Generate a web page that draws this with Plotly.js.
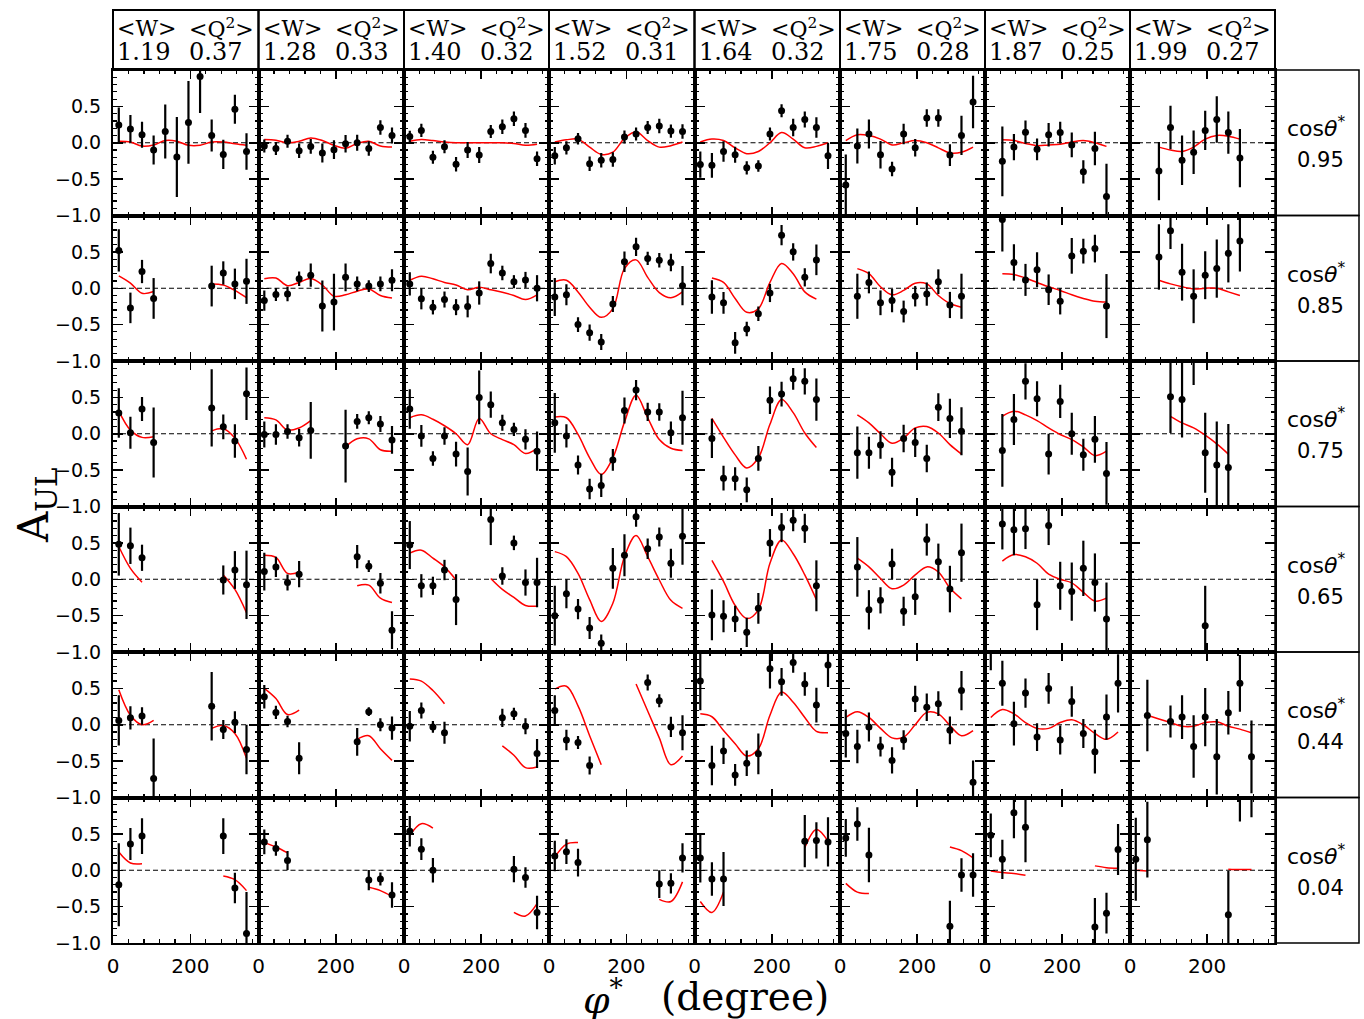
<!DOCTYPE html>
<html><head><meta charset="utf-8">
<script src="https://cdn.plot.ly/plotly-3.0.1.min.js"></script>
<style>html,body{margin:0;padding:0;background:#fff}</style>
</head><body>
<div id="chart" style="width:1364px;height:1019px"></div>
<script>
// ---------------- data ----------------
const PHI = [15,45,75,105,135,165,195,225,255,285,315,345];
const W_MEAN = ['1.19','1.28','1.40','1.52','1.64','1.75','1.87','1.99'];
const Q2_MEAN = ['0.37','0.33','0.32','0.31','0.32','0.28','0.25','0.27'];
const COS_THETA = ['0.95','0.85','0.75','0.65','0.44','0.04'];
const Y_TICKS = [-1,-0.5,0,0.5,1];
const Y_TICK_TEXT = ['\u22121.0','\u22120.5','0.0','0.5',''];
const N = null;

// cos(theta*) = 0.95
const A_095 = [
 [0.245,0.19,0.11,-0.10,0.155,-0.195,0.28,0.91,0.10,-0.16,0.46,-0.12],
 [-0.045,-0.08,0.02,-0.11,-0.05,-0.14,-0.095,-0.015,0.0,-0.08,0.21,0.10],
 [0.085,0.17,-0.20,-0.055,-0.295,-0.10,-0.17,0.155,0.22,0.33,0.17,-0.22],
 [-0.18,-0.07,0.055,-0.29,-0.24,-0.23,0.08,0.12,0.21,0.23,0.16,0.155],
 [-0.30,-0.31,-0.12,-0.165,-0.345,-0.32,0.12,0.44,0.21,0.32,0.21,-0.18],
 [-0.58,-0.045,0.12,-0.165,-0.36,0.12,-0.07,0.34,0.34,-0.17,0.10,0.56],
 [N,-0.255,-0.06,0.145,-0.09,0.11,0.14,-0.03,-0.40,-0.08,-0.74,N],
 [N,N,-0.39,0.21,-0.24,-0.13,0.17,0.32,0.14,-0.21,N,N]
];
const E_095 = [
 [0.24,0.19,0.18,0.20,0.37,0.55,0.57,0.50,0.22,0.20,0.20,0.25],
 [0.09,0.09,0.09,0.10,0.10,0.13,0.13,0.12,0.11,0.10,0.10,0.11],
 [0.08,0.09,0.09,0.09,0.10,0.11,0.11,0.09,0.10,0.10,0.10,0.10],
 [0.12,0.09,0.08,0.10,0.10,0.10,0.09,0.09,0.09,0.10,0.09,0.10],
 [0.18,0.17,0.14,0.11,0.09,0.08,0.09,0.09,0.12,0.11,0.14,0.18],
 [0.42,0.24,0.20,0.19,0.10,0.14,0.12,0.12,0.12,0.15,0.27,0.36],
 [N,0.48,0.18,0.16,0.15,0.16,0.15,0.17,0.16,0.23,0.45,N],
 [N,N,0.40,0.30,0.34,0.30,0.27,0.32,0.29,0.40,N,N]
];
const F_095 = [
 [0.02,0.01,-0.045,-0.03,0.03,0.02,-0.035,-0.035,0.01,0.01,-0.015,-0.035],
 [0.045,0.035,0.0,0.02,0.065,0.03,-0.035,-0.075,-0.01,0.02,-0.045,-0.06],
 [0.02,0.045,0.03,0.01,0.0,0.0,0.0,0.0,0.0,-0.01,-0.035,-0.02],
 [0.01,0.04,0.05,-0.06,-0.16,-0.13,0.06,0.15,0.03,-0.06,-0.04,0.01],
 [0.01,0.05,0.03,-0.07,-0.15,-0.12,0.0,0.14,0.05,-0.07,-0.05,0.0],
 [0.03,0.11,0.10,0.05,-0.03,0.0,0.03,0.0,-0.07,-0.14,-0.13,-0.06],
 [N,0.04,0.03,-0.01,-0.04,-0.03,-0.02,0.01,0.03,0.0,-0.05,N],
 [N,N,-0.06,-0.10,-0.12,-0.06,0.05,0.10,0.09,0.05,N,N]
];

// cos(theta*) = 0.85
const A_085 = [
 [0.52,-0.27,0.23,-0.14,N,N,N,N,0.03,0.21,0.06,0.095],
 [-0.17,-0.085,-0.08,0.13,0.18,-0.245,-0.19,0.15,0.06,0.03,0.06,0.11],
 [0.06,-0.145,-0.26,-0.155,-0.26,-0.25,-0.065,0.34,0.21,0.09,0.115,0.0],
 [-0.12,-0.09,-0.50,-0.61,-0.74,-0.215,0.365,0.57,0.41,0.385,0.355,0.035],
 [N,-0.12,-0.20,-0.75,-0.56,-0.35,-0.065,0.73,0.50,0.15,0.39,N],
 [N,-0.11,0.08,-0.20,-0.17,-0.32,-0.11,-0.08,0.09,-0.23,-0.11,N],
 [N,0.945,0.355,0.115,0.255,-0.02,-0.18,0.445,0.51,0.545,-0.245,N],
 [N,N,0.43,0.79,0.22,-0.11,0.18,0.27,0.48,0.65,N,N]
];
const E_085 = [
 [0.29,0.21,0.16,0.28,N,N,N,N,0.28,0.16,0.21,0.31],
 [0.14,0.09,0.10,0.10,0.16,0.35,0.39,0.19,0.10,0.08,0.10,0.15],
 [0.16,0.145,0.10,0.11,0.11,0.15,0.16,0.135,0.10,0.09,0.11,0.18],
 [0.26,0.145,0.10,0.11,0.11,0.11,0.14,0.125,0.09,0.10,0.12,0.27],
 [N,0.23,0.15,0.15,0.10,0.10,0.125,0.14,0.12,0.125,0.21,N],
 [N,0.31,0.15,0.17,0.16,0.15,0.14,0.16,0.17,0.18,0.31,N],
 [N,0.44,0.25,0.22,0.24,0.21,0.18,0.245,0.17,0.19,0.44,N],
 [N,N,0.45,0.25,0.39,0.37,0.33,0.40,0.40,0.42,N,N]
];
const F_085 = [
 [0.17,0.07,-0.07,-0.045,N,N,N,N,0.06,0.045,-0.03,-0.13],
 [0.13,0.14,0.035,0.08,0.135,0.045,-0.11,-0.09,-0.04,-0.01,-0.10,-0.135],
 [0.11,0.165,0.13,0.08,0.045,-0.02,0.015,-0.02,-0.055,-0.10,-0.155,-0.09],
 [0.09,0.11,-0.05,-0.26,-0.40,-0.28,0.27,0.39,0.15,-0.06,-0.13,-0.05],
 [N,0.14,0.08,-0.14,-0.33,-0.28,0.08,0.34,0.20,-0.05,-0.15,N],
 [N,0.27,0.20,0.02,-0.09,-0.03,0.07,0.06,-0.10,-0.21,-0.26,N],
 [N,0.20,0.19,0.14,0.08,0.02,-0.03,-0.09,-0.14,-0.18,-0.19,N],
 [N,N,0.11,0.06,0.02,-0.01,0.0,0.0,-0.05,-0.10,N,N]
];

// cos(theta*) = 0.75
const A_075 = [
 [0.285,0.015,0.34,-0.12,N,N,N,N,0.355,0.095,-0.10,0.55],
 [-0.01,-0.01,0.03,-0.055,0.045,N,N,-0.17,0.17,0.22,0.135,-0.085],
 [0.34,-0.03,-0.34,-0.03,-0.28,-0.52,0.50,0.40,0.15,0.06,-0.077,-0.24],
 [0.15,-0.03,-0.43,-0.76,-0.71,-0.36,0.32,0.60,0.30,0.30,0.015,0.22],
 [N,-0.065,-0.61,-0.62,-0.77,-0.34,0.46,0.545,0.755,0.72,0.47,N],
 [N,-0.26,-0.26,-0.155,-0.53,-0.065,-0.12,-0.34,0.365,0.21,0.035,N],
 [N,-0.23,0.195,0.72,0.48,-0.28,0.445,0.0,-0.29,-0.077,-0.545,N],
 [N,N,N,0.51,0.47,1.15,-0.26,-0.43,-0.465,N,N,N]
];
const E_075 = [
 [0.34,0.22,0.165,0.48,N,N,N,N,0.53,0.17,0.23,0.36],
 [0.18,0.14,0.10,0.12,0.39,N,N,0.50,0.10,0.09,0.11,0.19],
 [0.27,0.15,0.10,0.12,0.17,0.33,0.37,0.18,0.11,0.09,0.14,0.27],
 [0.41,0.16,0.13,0.14,0.16,0.15,0.18,0.14,0.125,0.12,0.155,0.37],
 [N,0.27,0.17,0.16,0.17,0.17,0.19,0.17,0.15,0.18,0.29,N],
 [N,0.36,0.22,0.19,0.20,0.19,0.20,0.19,0.19,0.27,0.33,N],
 [N,0.50,0.35,0.25,0.24,0.28,0.23,0.29,0.22,0.32,0.43,N],
 [N,N,N,0.50,0.52,0.48,0.55,0.60,0.60,N,N,N]
];
const F_075 = [
 [0.31,0.05,-0.05,-0.04,N,N,N,N,0.04,0.07,-0.06,-0.35],
 [0.22,0.19,0.05,0.08,0.18,N,N,-0.18,-0.07,-0.07,-0.22,-0.24],
 [0.22,0.26,0.20,0.11,0.0,-0.15,0.21,0.0,-0.08,-0.15,-0.27,-0.20],
 [0.23,0.22,-0.01,-0.33,-0.56,-0.33,0.16,0.53,0.22,-0.08,-0.20,-0.23],
 [N,0.21,-0.05,-0.29,-0.47,-0.33,0.13,0.47,0.29,0.01,-0.19,N],
 [N,0.26,0.15,0.0,-0.13,-0.06,0.08,0.10,0.01,-0.15,-0.28,N],
 [N,0.24,0.31,0.26,0.18,0.08,-0.01,-0.08,-0.18,-0.30,-0.24,N],
 [N,N,N,0.24,0.15,0.08,-0.02,-0.14,-0.28,N,N,N]
];

// cos(theta*) = 0.65
const A_065 = [
 [0.48,0.46,0.295,N,N,N,N,N,N,-0.01,0.127,-0.077],
 [0.105,0.17,-0.045,0.07,N,N,N,N,0.31,0.18,-0.055,-0.70],
 [0.47,-0.09,-0.09,0.127,-0.28,N,N,0.82,0.045,0.50,-0.045,-0.045],
 [-0.50,-0.20,-0.41,-0.67,-0.88,0.15,0.33,0.86,0.42,0.58,0.22,0.59],
 [N,-0.49,-0.51,-0.545,-0.73,-0.40,0.50,0.71,0.81,0.70,-0.09,N],
 [N,0.17,-0.42,-0.29,0.21,-0.44,-0.24,0.545,0.24,-0.135,0.365,N],
 [N,0.76,0.68,0.695,-0.35,0.74,-0.09,-0.17,0.15,-0.045,-0.545,N],
 [N,N,N,N,N,N,-0.64,N,N,N,N,N]
];
const E_065 = [
 [0.43,0.25,0.18,N,N,N,N,N,N,0.20,0.26,0.47],
 [0.26,0.14,0.11,0.18,N,N,N,N,0.16,0.08,0.14,0.26],
 [0.33,0.16,0.125,0.14,0.35,N,N,0.35,0.12,0.10,0.18,0.34],
 [0.41,0.20,0.14,0.15,0.12,0.28,0.29,0.14,0.14,0.13,0.20,0.39],
 [N,0.35,0.22,0.18,0.20,0.21,0.19,0.20,0.15,0.20,0.35,N],
 [N,0.41,0.27,0.18,0.21,0.20,0.25,0.22,0.25,0.32,0.40,N],
 [N,0.35,0.35,0.28,0.35,0.27,0.33,0.40,0.38,0.40,0.50,N],
 [N,N,N,N,N,N,0.55,N,N,N,N,N]
];
const F_065 = [
 [0.45,0.15,-0.04,N,N,N,N,N,N,0.06,-0.14,-0.46],
 [0.33,0.30,0.08,0.10,N,N,N,N,-0.09,-0.08,-0.26,-0.32],
 [0.36,0.40,0.29,0.17,-0.01,N,N,0.01,-0.14,-0.25,-0.36,-0.37],
 [0.38,0.31,0.08,-0.28,-0.58,-0.33,0.31,0.60,0.31,-0.01,-0.29,-0.40],
 [N,0.26,-0.03,-0.36,-0.54,-0.42,0.22,0.54,0.35,0.06,-0.28,N],
 [N,0.29,0.17,0.01,-0.13,-0.08,0.06,0.17,0.10,-0.12,-0.27,N],
 [N,0.25,0.34,0.31,0.22,0.07,0.0,-0.05,-0.18,-0.30,-0.26,N],
 [N,N,N,N,N,N,N,N,N,N,N,N]
];

// cos(theta*) = 0.44
const A_044 = [
 [0.06,0.095,0.12,-0.74,N,N,N,N,0.255,-0.065,0.035,-0.34],
 [0.385,0.17,0.045,-0.46,N,N,N,N,-0.235,0.18,0.0,-0.045],
 [-0.02,0.195,-0.03,-0.11,N,N,N,N,0.095,0.15,-0.02,-0.395],
 [0.195,-0.21,-0.245,-0.56,N,N,N,N,0.58,0.33,-0.03,-0.11],
 [0.60,-0.56,-0.36,-0.69,-0.53,-0.40,0.77,0.59,0.855,0.56,0.27,0.82],
 [-0.12,-0.30,-0.03,-0.30,-0.49,-0.21,0.355,0.24,0.29,-0.077,0.47,-0.79],
 [1.05,0.57,0.015,0.435,-0.17,0.50,-0.21,0.32,-0.12,-0.37,0.105,0.57],
 [N,0.127,N,0.045,0.105,-0.30,0.105,-0.44,0.165,0.57,-0.44,N]
];
const E_044 = [
 [0.345,0.16,0.12,0.55,N,N,N,N,0.47,0.13,0.15,0.34],
 [0.16,0.09,0.08,0.22,N,N,N,N,0.19,0.06,0.09,0.16],
 [0.21,0.11,0.08,0.15,N,N,N,N,0.125,0.085,0.11,0.20],
 [0.21,0.14,0.09,0.125,N,N,N,N,0.11,0.09,0.14,0.24],
 [0.40,0.27,0.18,0.15,0.175,0.28,0.27,0.19,0.14,0.16,0.24,0.30],
 [0.33,0.23,0.20,0.135,0.18,0.135,0.18,0.19,0.17,0.19,0.27,0.30],
 [0.30,0.31,0.30,0.20,0.19,0.21,0.20,0.21,0.20,0.30,0.31,0.40],
 [N,0.49,N,0.22,0.30,0.43,0.40,0.52,0.30,0.39,0.50,N]
];
const F_044 = [
 [0.48,0.13,0.0,0.06,N,N,N,N,-0.05,-0.01,-0.12,-0.46],
 [0.50,0.36,0.14,0.20,N,N,N,N,-0.20,-0.15,-0.33,-0.49],
 [0.63,0.60,0.47,0.29,N,N,N,N,-0.29,-0.42,-0.59,-0.58],
 [0.49,0.53,0.26,-0.15,-0.55,N,N,0.56,0.19,-0.18,-0.55,-0.43],
 [0.15,0.11,-0.08,-0.26,-0.43,-0.33,0.13,0.45,0.31,0.10,-0.09,-0.11],
 [0.10,0.18,0.10,-0.05,-0.18,-0.17,0.0,0.17,0.15,-0.01,-0.15,-0.08],
 [0.10,0.21,0.15,0.03,-0.05,-0.05,0.03,0.07,0.0,-0.12,-0.20,-0.10],
 [N,0.13,0.08,0.03,-0.02,-0.02,0.03,0.04,-0.02,-0.06,-0.11,N]
];

// cos(theta*) = 0.04
const A_004 = [
 [-0.20,0.36,0.47,N,N,N,N,N,N,0.47,-0.245,-0.87],
 [0.39,0.30,0.135,N,N,N,N,N,N,-0.135,-0.12,-0.34],
 [0.535,0.29,0.0,N,N,N,N,N,N,0.015,-0.10,-0.58],
 [0.195,0.255,0.105,N,N,N,N,N,N,-0.19,-0.18,0.17],
 [0.17,-0.12,-0.12,N,N,N,N,N,N,0.40,0.41,0.39],
 [0.445,0.635,0.21,N,N,N,N,N,N,-0.77,-0.065,-0.065],
 [0.48,0.15,0.79,0.59,N,N,N,N,N,-0.78,-0.59,0.285],
 [0.15,0.42,N,N,N,N,N,N,-0.61,1.25,1.30,N]
];
const E_004 = [
 [0.57,0.22,0.245,N,N,N,N,N,N,0.245,0.21,0.57],
 [0.17,0.10,0.13,N,N,N,N,N,N,0.14,0.09,0.175],
 [0.21,0.15,0.17,N,N,N,N,N,N,0.18,0.14,0.23],
 [0.21,0.17,0.19,N,N,N,N,N,N,0.19,0.14,0.20],
 [0.34,0.23,0.37,N,N,N,N,N,N,0.36,0.25,0.34],
 [0.26,0.23,0.375,N,N,N,N,N,N,0.35,0.23,0.30],
 [0.30,0.27,0.35,0.48,N,N,N,N,N,0.40,0.28,0.35],
 [0.57,0.52,N,N,N,N,N,N,0.60,0.58,0.57,N]
];
const F_004 = [
 [0.25,0.10,0.09,N,N,N,N,N,N,-0.08,-0.13,-0.28],
 [0.38,0.32,0.24,N,N,N,N,N,N,-0.235,-0.28,-0.36],
 [0.48,0.64,0.58,N,N,N,N,N,N,-0.58,-0.63,-0.46],
 [0.18,0.36,0.38,N,N,N,N,N,N,-0.40,-0.43,-0.16],
 [-0.43,-0.58,-0.30,N,N,N,N,N,N,0.31,0.56,0.40],
 [-0.18,-0.30,-0.32,N,N,N,N,N,N,0.32,0.27,0.17],
 [-0.01,-0.03,-0.045,-0.07,N,N,N,N,N,0.06,0.036,0.027],
 [0.0,-0.01,N,N,N,N,N,N,0.015,0.01,0.01,N]
];

const A_ROWS = [A_095, A_085, A_075, A_065, A_044, A_004];
const E_ROWS = [E_095, E_085, E_075, E_065, E_044, E_004];
const F_ROWS = [F_095, F_085, F_075, F_065, F_044, F_004];

// ---------------- layout geometry ----------------
const W = 1364, H = 1019;
const COL_EDGES = [113,258.5,404,549,694.5,840,985,1130,1275];
const ROW_EDGES = [70,215.5,361,506.5,652,797.5,943];
const RIGHT_EDGE = 1359;
const px = v => v / W;
const py = v => 1 - v / H;
const SERIF = 'DejaVu Serif';

const data = [];
const layout = {
  width: W, height: H,
  margin: {l:0, r:0, t:0, b:0},
  paper_bgcolor: '#fff', plot_bgcolor: 'rgba(0,0,0,0)',
  showlegend: false,
  font: {family: 'DejaVu Sans', color: '#000'},
  shapes: [], annotations: []
};

for (let r = 0; r < 6; r++) {
  for (let c = 0; c < 8; c++) {
    const n = r * 8 + c + 1;
    const xs = n === 1 ? '' : String(n);
    data.push({
      type: 'scatter', mode: 'lines', x: PHI, y: F_ROWS[r][c],
      xaxis: 'x' + xs, yaxis: 'y' + xs, connectgaps: false,
      line: {color: '#ff0000', width: 1.5, shape: 'spline', smoothing: 1},
      hoverinfo: 'skip'
    });
    data.push({
      type: 'scatter', mode: 'markers', x: PHI, y: A_ROWS[r][c],
      xaxis: 'x' + xs, yaxis: 'y' + xs,
      marker: {color: '#000', size: 7},
      error_y: {type: 'data', array: E_ROWS[r][c], visible: true, thickness: 2.2, width: 0, color: '#000'},
      cliponaxis: true
    });
    layout['xaxis' + xs] = {
      domain: [px(COL_EDGES[c]), px(COL_EDGES[c + 1])],
      anchor: 'y' + xs, range: [0, 376], fixedrange: true,
      showline: true, linewidth: 2, linecolor: '#000', mirror: 'allticks',
      ticks: 'inside', ticklen: 9, tickwidth: 1.5, tickcolor: '#000',
      tickmode: 'linear', tick0: 0, dtick: 200,
      minor: {ticks: 'inside', ticklen: 4, tickwidth: 1.2, tickcolor: '#000', tickmode: 'linear', tick0: 0, dtick: 40, showgrid: false},
      showticklabels: r === 5, tickfont: {family: 'DejaVu Sans', size: 20, color: '#000'},
      ticklabelstandoff: 4,
      showgrid: false, zeroline: false
    };
    layout['yaxis' + xs] = {
      domain: [py(ROW_EDGES[r + 1]), py(ROW_EDGES[r])],
      anchor: 'x' + xs, range: [-1, 1], fixedrange: true,
      showline: true, linewidth: 2, linecolor: '#000', mirror: 'allticks',
      ticks: 'inside', ticklen: 10, tickwidth: 1.5, tickcolor: '#000',
      tickmode: 'array', tickvals: Y_TICKS, ticktext: Y_TICK_TEXT,
      minor: {ticks: 'inside', ticklen: 4, tickwidth: 1.2, tickcolor: '#000', tickmode: 'linear', tick0: 0, dtick: 0.1, showgrid: false},
      showticklabels: c === 0, tickfont: {family: 'DejaVu Sans', size: 19, color: '#000'},
      ticklabelstandoff: 6,
      showgrid: false, zeroline: false
    };
    layout.shapes.push({
      type: 'line', xref: 'x' + xs, yref: 'y' + xs, x0: 0, x1: 376, y0: 0, y1: 0,
      line: {color: '#000', width: 1.2, dash: '5px,3px'}, layer: 'below'
    });
  }
}

// header boxes with <W> and <Q^2>
function headText(x, y, text, size) {
  layout.annotations.push({xref: 'paper', yref: 'paper', x: px(x), y: py(y),
    xanchor: 'left', yanchor: 'middle', showarrow: false, text: text,
    font: {family: SERIF, size: size, color: '#000'}});
}
for (let c = 0; c < 8; c++) {
  layout.shapes.push({type: 'rect', xref: 'paper', yref: 'paper',
    x0: px(COL_EDGES[c]), x1: px(COL_EDGES[c + 1]), y0: py(70), y1: py(10),
    line: {color: '#000', width: 2}});
  headText(COL_EDGES[c] + 2, 28, '&lt;W&gt;', 22);
  headText(COL_EDGES[c] + 74, 28, '&lt;Q<sup>2</sup>&gt;', 22);
  headText(COL_EDGES[c] + 2, 52, W_MEAN[c], 24);
  headText(COL_EDGES[c] + 74, 52, Q2_MEAN[c], 24);
}

// right-hand cos(theta*) boxes
for (let r = 0; r < 6; r++) {
  layout.shapes.push({type: 'rect', xref: 'paper', yref: 'paper',
    x0: px(COL_EDGES[8]), x1: px(RIGHT_EDGE), y0: py(ROW_EDGES[r + 1]), y1: py(ROW_EDGES[r]),
    line: {color: '#000', width: 1.5}});
  layout.annotations.push({xref: 'paper', yref: 'paper', x: px(1316), y: py(ROW_EDGES[r] + 57),
    xanchor: 'center', yanchor: 'middle', showarrow: false,
    text: 'cos<i>θ</i><sup>*</sup>', font: {family: 'DejaVu Sans', size: 22, color: '#000'}});
  layout.annotations.push({xref: 'paper', yref: 'paper', x: px(1320), y: py(ROW_EDGES[r] + 90),
    xanchor: 'center', yanchor: 'middle', showarrow: false,
    text: COS_THETA[r], font: {family: 'DejaVu Sans', size: 21, color: '#000'}});
}

// axis titles
layout.annotations.push({xref: 'paper', yref: 'paper', x: px(36), y: py(505),
  xanchor: 'center', yanchor: 'middle', showarrow: false, textangle: -90,
  text: 'A<sub>UL</sub>', font: {family: SERIF, size: 42, color: '#000'}});
layout.annotations.push({xref: 'paper', yref: 'paper', x: px(603), y: py(997),
  xanchor: 'center', yanchor: 'middle', showarrow: false,
  text: '<i>φ</i><sup>*</sup>', font: {family: SERIF, size: 38, color: '#000'}});
layout.annotations.push({xref: 'paper', yref: 'paper', x: px(745), y: py(996),
  xanchor: 'center', yanchor: 'middle', showarrow: false,
  text: '(degree)', font: {family: SERIF, size: 39, color: '#000'}});

Plotly.newPlot('chart', data, layout, {displayModeBar: false, staticPlot: true});
</script>
</body></html>
